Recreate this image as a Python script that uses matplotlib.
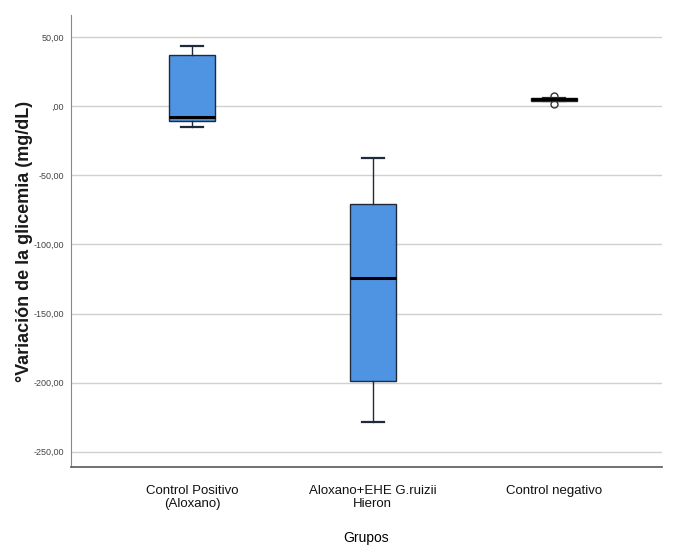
import matplotlib.pyplot as plt
import matplotlib as mpl

mpl.rcParams['font.family'] = ['Liberation Sans', 'DejaVu Sans']

# Groups and box statistics
grupos = ["Control Positivo\n(Aloxano)", "Aloxano+EHE G.ruizii\nHieron", "Control negativo"]
whislo = [-15.2, -228.7, 4.0]
q1 = [-10.8, -199.0, 4.0]
med = [-7.9, -124.0, 5.0]
q3 = [36.8, -70.7, 6.0]
whishi = [43.3, -37.5, 6.0]
outliers = [[], [], [7.5, 1.8]]

yticks = [50, 0, -50, -100, -150, -200, -250]


def fmt(v):
    s = "%.2f" % v
    s = s.replace(".", ",")
    if s.startswith("0,"):
        s = s[1:]
    return s


fig = plt.figure(figsize=(6.73, 5.55), dpi=100)
ax = fig.add_axes([0.1055, 0.1586, 0.878, 0.8144])

stats = []
for i in range(len(grupos)):
    stats.append(dict(whislo=whislo[i], q1=q1[i], med=med[i], q3=q3[i],
                      whishi=whishi[i], fliers=outliers[i], label=grupos[i]))

ax.bxp(stats, positions=[1, 2, 3], widths=0.255, patch_artist=True,
       boxprops=dict(facecolor='#4f94e3', edgecolor='#1f2a3a', linewidth=1.0),
       medianprops=dict(color='black', linewidth=2.2),
       whiskerprops=dict(color='#1f2a3a', linewidth=1.0),
       capprops=dict(color='#1f2a3a', linewidth=1.6),
       flierprops=dict(marker='o', markerfacecolor='none', markeredgecolor='#333333',
                       markersize=5, markeredgewidth=1.0),
       capwidths=0.125)

ax.set_xlim(0.332, 3.597)
ax.set_ylim(-261, 66)
ax.set_yticks(yticks)
ax.set_yticklabels([fmt(v) for v in yticks], fontsize=6.5, color='#444444')
ax.tick_params(axis='y', length=0, pad=5)
ax.tick_params(axis='x', length=0, pad=13)
ax.set_xticks([1, 2, 3])
ax.set_xticklabels(grupos, fontsize=9.5, color='#111111', linespacing=1.15)

ax.yaxis.grid(True, color='#d0d0d0', linewidth=1.0)
ax.set_axisbelow(True)
for s in ['top', 'right']:
    ax.spines[s].set_visible(False)
ax.spines['left'].set_color('#888888')
ax.spines['bottom'].set_color('#666666')
ax.spines['bottom'].set_linewidth(1.3)

ax.set_ylabel("°Variación de la glicemia (mg/dL)", fontsize=13, fontweight='bold', color='#1a1a1a')
ax.yaxis.set_label_coords(-0.064, 0.5)
ax.set_xlabel("Grupos", fontsize=10, labelpad=15)

plt.savefig("out.png", dpi=100)
